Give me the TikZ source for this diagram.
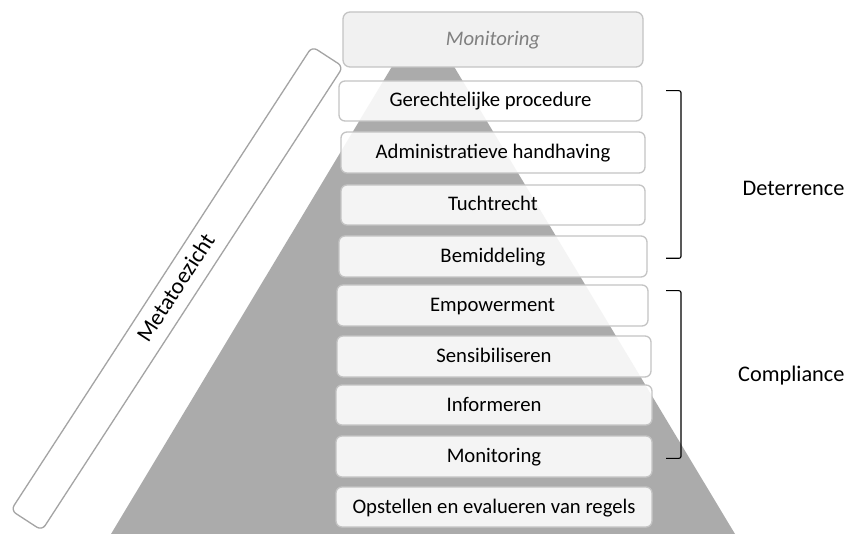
\documentclass[tikz,border=0pt]{standalone}
\usepackage{fontspec}
\setmainfont{Carlito}
\begin{document}
\begin{tikzpicture}[x=1pt,y=-1pt,
  boxtext/.style={font=\fontsize{20.7}{24}\selectfont},
  sidetext/.style={font=\fontsize{22.3}{26}\selectfont, inner sep=0pt},
  stepbox/.style={draw=boxline, line width=1.3pt, rounded corners=6pt, fill=white, fill opacity=0.87, text opacity=1,
    boxtext, inner sep=0pt, text height=16pt, text depth=4pt},
  bracketline/.style={draw=black, line width=1.1pt, rounded corners=2pt}
]
\definecolor{boxline}{HTML}{C4C4C4}
\definecolor{bandline}{HTML}{A4A4A4}
\definecolor{pyr}{HTML}{ABABAB}
\definecolor{topfill}{HTML}{F1F1F1}
\definecolor{toptext}{HTML}{808080}
\useasboundingbox (0,0) rectangle (848,534);
\fill[white] (0,0) rectangle (848,534);

% Metatoezicht band
\node[draw=bandline, line width=1.3pt, rounded corners=6pt, fill=white, rotate=57,
  minimum width=553pt, minimum height=37pt, inner sep=0pt,
  font=\fontsize{23}{26}\selectfont, text height=17pt, text depth=5pt] (band) at (177,288.5) {Metatoezicht};

% pyramid
\coordinate (apex) at (423,15);
\coordinate (bl) at (111,534);
\coordinate (br) at (735,534);
\fill[pyr] (apex) -- (bl) -- (br) -- cycle;

% steps
\node[stepbox, minimum width=303pt, minimum height=40pt] (ger) at (490.5,101) {Gerechtelijke procedure};
\node[stepbox, minimum width=304pt, minimum height=41pt] (adm) at (493,152.5) {Administratieve handhaving};
\node[stepbox, minimum width=304pt, minimum height=40pt] (tuc) at (493,205) {Tuchtrecht};
\node[stepbox, minimum width=308pt, minimum height=41pt] (bem) at (493,256.5) {Bemiddeling};
\node[stepbox, minimum width=311pt, minimum height=41pt] (emp) at (492.5,305.5) {Empowerment};
\node[stepbox, minimum width=314pt, minimum height=41pt] (sen) at (494,356.5) {Sensibiliseren};
\node[stepbox, minimum width=316pt, minimum height=40pt] (inf) at (494,405) {Informeren};
\node[stepbox, minimum width=316pt, minimum height=41pt] (mon) at (494,456.5) {Monitoring};
\node[stepbox, minimum width=316pt, minimum height=40pt] (ops) at (494,507) {Opstellen en evalueren van regels};

% top monitoring
\node[draw=boxline, line width=1.3pt, rounded corners=7pt, fill=topfill, text=toptext,
  minimum width=300pt, minimum height=55pt, inner sep=0pt,
  font=\fontsize{20.7}{24}\selectfont\itshape, text height=16pt, text depth=4pt] (topmon) at (493,39.5) {Monitoring};

% brackets
\coordinate (d1) at (666,90.7);
\coordinate (d2) at (681,90.7);
\coordinate (d3) at (681,258.3);
\coordinate (d4) at (666,258.3);
\draw[bracketline] (d1) -- (d2) -- (d3) -- (d4);
\coordinate (c1) at (666,290.7);
\coordinate (c2) at (681,290.7);
\coordinate (c3) at (681,458.3);
\coordinate (c4) at (666,458.3);
\draw[bracketline] (c1) -- (c2) -- (c3) -- (c4);

\node[sidetext, anchor=base] (det) at (793.5,195.7) {Deterrence};
\node[sidetext, anchor=base] (com) at (791.3,381.7) {Compliance};
\end{tikzpicture}
\end{document}
